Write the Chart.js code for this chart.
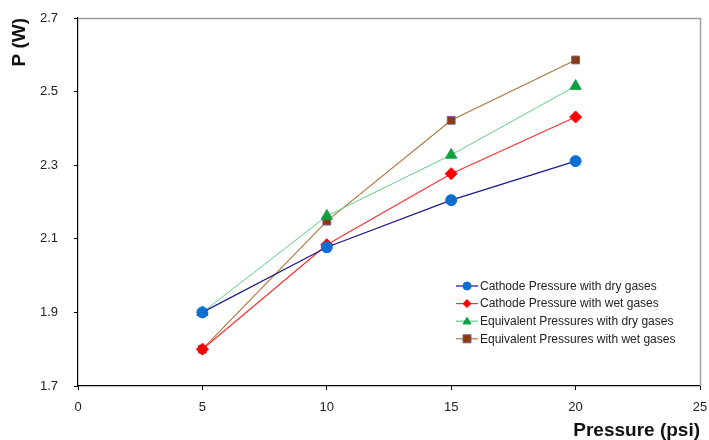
<!DOCTYPE html>
<html>
<head>
<meta charset="utf-8">
<script src="https://cdn.jsdelivr.net/npm/chart.js@4/dist/chart.umd.min.js"></script>
<style>
html,body{margin:0;padding:0;background:#fff;}
#wrap{width:709px;height:440px;position:relative;}
</style>
</head>
<body>
<div id="wrap"><canvas id="c" width="709" height="440"></canvas></div>
<script>
const pressures = [5, 10, 15, 20];
const cathodeDry = [1.90, 2.077, 2.205, 2.311];
const cathodeWet = [1.80, 2.084, 2.277, 2.431];
const equivDry = [1.90, 2.162, 2.328, 2.515];
const equivWet = [1.80, 2.148, 2.422, 2.586];
const seriesNames = [
  'Cathode Pressure with dry gases',
  'Cathode Pressure with wet gases',
  'Equivalent Pressures with dry gases',
  'Equivalent Pressures with wet gases'
];
const xTicks = [0, 5, 10, 15, 20, 25];
const yTicks = [1.7, 1.9, 2.1, 2.3, 2.5, 2.7];

const FONT = "'Liberation Sans', Arial, sans-serif";
function pts(vals){ return pressures.map((p,i)=>({x:p,y:vals[i]})); }

const datasets = [
  {label: seriesNames[0], data: pts(cathodeDry), borderColor:'#1a1a8c', backgroundColor:'#0a6fd0', pointBorderColor:'#0a6fd0', pointStyle:'circle', pointRadius:5.5, borderWidth:1.2},
  {label: seriesNames[1], data: pts(cathodeWet), borderColor:'#ff3030', backgroundColor:'#ff0000', pointBorderColor:'#ff0000', pointStyle:'rectRot', pointRadius:6, borderWidth:1.2},
  {label: seriesNames[2], data: pts(equivDry), borderColor:'#5fcf85', backgroundColor:'#10a040', pointBorderColor:'#10a040', pointStyle:'triangle', pointRadius:6.5, borderWidth:1},
  {label: seriesNames[3], data: pts(equivWet), borderColor:'#b07840', backgroundColor:'#8b3c0c', pointBorderColor:'#7a5a8a', pointStyle:'rect', pointRadius:5.5, borderWidth:1.2}
];
datasets.forEach(d=>{ d.pointBorderWidth = 1; d.tension = 0; d.fill = false; d.pointHoverRadius = d.pointRadius; });

const framePlugin = {
  id:'frame',
  afterDraw(chart){
    const ctx = chart.ctx, a = chart.chartArea;
    ctx.save();
    ctx.strokeStyle = '#a0a0a0';
    ctx.lineWidth = 1.5;
    ctx.beginPath();
    ctx.moveTo(a.left, a.top+0.5);
    ctx.lineTo(a.right+0.5, a.top+0.5);
    ctx.lineTo(a.right+0.5, a.bottom);
    ctx.stroke();
    // legend
    const lx = 456, ly0 = 286, dy = 17.6;
    ctx.font = "12px " + FONT;
    ctx.textBaseline = 'middle';
    ctx.textAlign = 'left';
    chart.data.datasets.forEach((d,i)=>{
      const y = ly0 + i*dy;
      ctx.strokeStyle = d.borderColor;
      ctx.lineWidth = 1.2;
      ctx.beginPath(); ctx.moveTo(lx, y); ctx.lineTo(lx+22, y); ctx.stroke();
      ctx.fillStyle = d.backgroundColor;
      ctx.strokeStyle = d.pointBorderColor;
      ctx.lineWidth = 1;
      ctx.beginPath();
      const r = 4, cx = lx+11;
      if (d.pointStyle==='circle'){ ctx.arc(cx,y,r,0,Math.PI*2); }
      else if (d.pointStyle==='rectRot'){ ctx.moveTo(cx,y-r); ctx.lineTo(cx+r,y); ctx.lineTo(cx,y+r); ctx.lineTo(cx-r,y); ctx.closePath(); }
      else if (d.pointStyle==='triangle'){ ctx.moveTo(cx,y-r); ctx.lineTo(cx+r,y+r*0.7); ctx.lineTo(cx-r,y+r*0.7); ctx.closePath(); }
      else { ctx.rect(cx-r,y-r,2*r,2*r); }
      ctx.fill(); ctx.stroke();
      ctx.fillStyle = '#222';
      ctx.fillText(d.label, lx+24, y+0.5);
    });
    ctx.restore();
  }
};

new Chart(document.getElementById('c'), {
  type:'line',
  data:{datasets},
  options:{
    responsive:false,
    animation:false,
    devicePixelRatio:1,
    layout:{padding:{left:0,top:18,right:9,bottom:0}},
    plugins:{legend:{display:false}, tooltip:{enabled:false}},
    scales:{
      x:{
        type:'linear', min:0, max:25,
        afterBuildTicks(s){ s.ticks = xTicks.map(v=>({value:v})); },
        afterFit(s){ s.height = 54; s.paddingLeft = 0; s.paddingRight = 0; },
        grid:{drawOnChartArea:false, tickLength:4, color:'#000', tickColor:'#000'},
        border:{color:'#000', width:1.2},
        ticks:{font:{family:FONT,size:13}, color:'#222', padding:10, callback:v=>String(v), maxRotation:0},
        title:{display:true, text:'Pressure (psi)', align:'end', font:{family:FONT,size:19,weight:'bold'}, color:'#111', padding:{top:0,bottom:-2}}
      },
      y:{
        type:'linear', min:1.7, max:2.7,
        afterBuildTicks(s){ s.ticks = yTicks.map(v=>({value:v})); },
        afterFit(s){ s.width = 78; s.paddingTop = 0; s.paddingBottom = 0; },
        grid:{drawOnChartArea:false, tickLength:4, color:'#000', tickColor:'#000'},
        border:{color:'#000', width:1.2},
        ticks:{font:{family:FONT,size:13}, color:'#222', padding:16, callback:v=>Number(v).toFixed(1)},
        title:{display:true, text:'P (W)', align:'end', font:{family:FONT,size:19,weight:'bold'}, color:'#111', padding:{top:8,bottom:0}}
      }
    }
  },
  plugins:[framePlugin]
});
</script>
</body>
</html>
